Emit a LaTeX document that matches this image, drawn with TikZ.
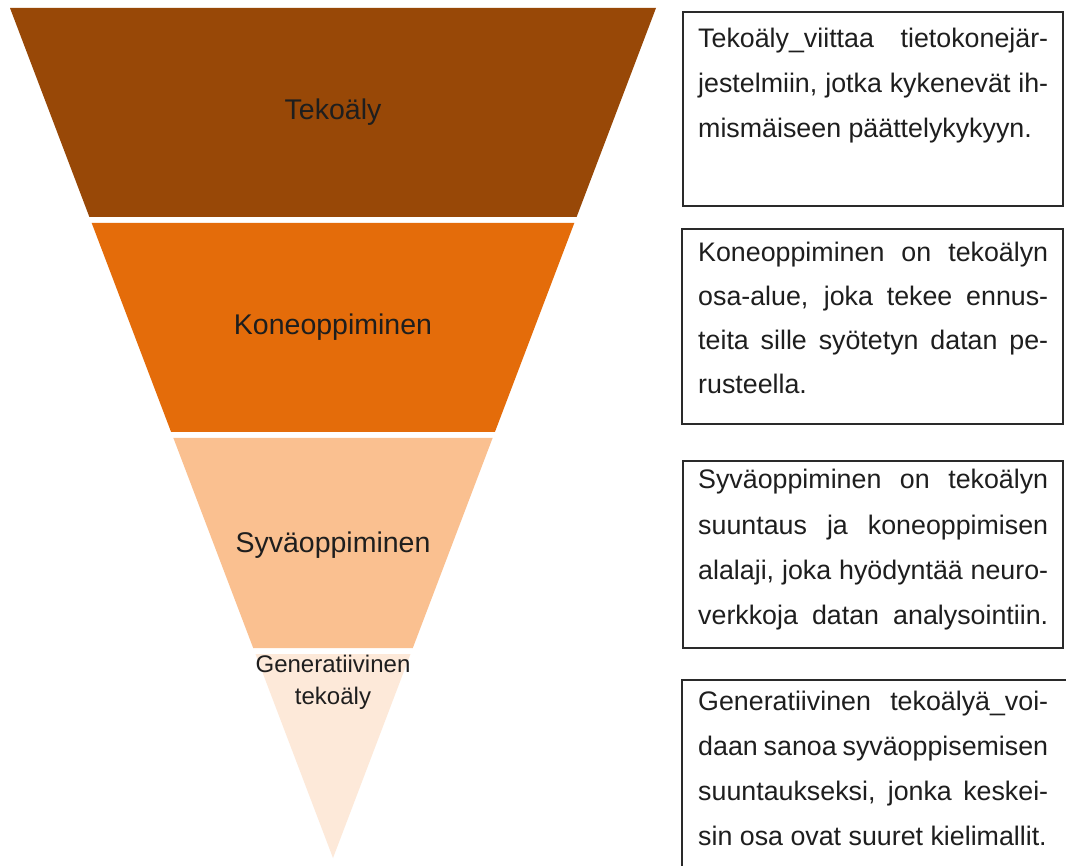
\documentclass[tikz,border=0pt]{standalone}
\usepackage{fontspec}
\setmainfont{Liberation Sans}
\definecolor{bandA}{HTML}{984807}
\definecolor{bandB}{HTML}{E46C0A}
\definecolor{bandC}{HTML}{FAC090}
\definecolor{bandD}{HTML}{FDE9D9}
\definecolor{txt}{HTML}{1E1E1E}
\definecolor{frame}{HTML}{2A2A2A}
\newcommand{\jline}[1]{\makebox[350pt][s]{#1}}
\begin{document}
\begin{tikzpicture}[x=1pt,y=-1pt,
  bandlabel/.style={anchor=base, inner sep=0pt, text=txt, font=\fontsize{28.5}{34}\selectfont},
  smalllabel/.style={anchor=base, inner sep=0pt, text=txt, font=\fontsize{24}{28}\selectfont},
  boxline/.style={anchor=base west, inner sep=0pt, text=txt, font=\fontsize{26.8}{30}\selectfont},
  infobox/.style={draw=frame, line width=1.3pt}]
\useasboundingbox (0,0) rectangle (1066,866);
\fill[white] (0,0) rectangle (1066,866);
% funnel bands
\fill[bandA] (10,8) -- (656,8) -- (576.6,217) -- (89.4,217) -- cycle;
\fill[bandB] (91.7,223) -- (574.3,223) -- (494.9,432) -- (171.1,432) -- cycle;
\fill[bandC] (173.4,438) -- (492.6,438) -- (412.8,648) -- (253.2,648) -- cycle;
\fill[bandD] (255.5,654) -- (410.5,654) -- (333,858) -- cycle;
% band labels
\node[bandlabel] (lA) at (333,120) {Tekoäly};
\node[bandlabel] (lB) at (333,335) {Koneoppiminen};
\node[bandlabel] (lC) at (333,552) {Syväoppiminen};
\node[smalllabel] (lD1) at (333,672) {Generatiivinen};
\node[smalllabel] (lD2) at (333,704) {tekoäly};
% info boxes
\draw[infobox] (683,12) rectangle (1063,206);
\draw[infobox] (682,229) rectangle (1063,424);
\draw[infobox] (683,461) rectangle (1063,648);
\draw[infobox] (1066,680) -- (682,680) -- (682,866);
% box 1
\node[boxline] (t11) at (698,48) {\jline{Tekoäly\_viittaa tietokonejär-}};
\node[boxline] (t12) at (698,93) {\jline{jestelmiin, jotka kykenevät ih-}};
\node[boxline] (t13) at (698,138) {mismäiseen päättelykykyyn.};
% box 2
\node[boxline] (t21) at (698,262) {\jline{Koneoppiminen on tekoälyn}};
\node[boxline] (t22) at (698,306) {\jline{osa-alue, joka tekee ennus-}};
\node[boxline] (t23) at (698,350) {\jline{teita sille syötetyn datan pe-}};
\node[boxline] (t24) at (698,394) {rusteella.};
% box 3
\node[boxline] (t31) at (698,489) {\jline{Syväoppiminen on tekoälyn}};
\node[boxline] (t32) at (698,534) {\jline{suuntaus ja koneoppimisen}};
\node[boxline] (t33) at (698,579) {\jline{alalaji, joka hyödyntää neuro-}};
\node[boxline] (t34) at (698,624) {\jline{verkkoja datan analysointiin.}};
% box 4
\node[boxline] (t41) at (698,710) {\jline{Generatiivinen tekoälyä\_voi-}};
\node[boxline] (t42) at (698,755) {\jline{daan sanoa syväoppisemisen}};
\node[boxline] (t43) at (698,800) {\jline{suuntaukseksi, jonka keskei-}};
\node[boxline] (t44) at (698,845) {sin osa ovat suuret kielimallit.};
\end{tikzpicture}
\end{document}
